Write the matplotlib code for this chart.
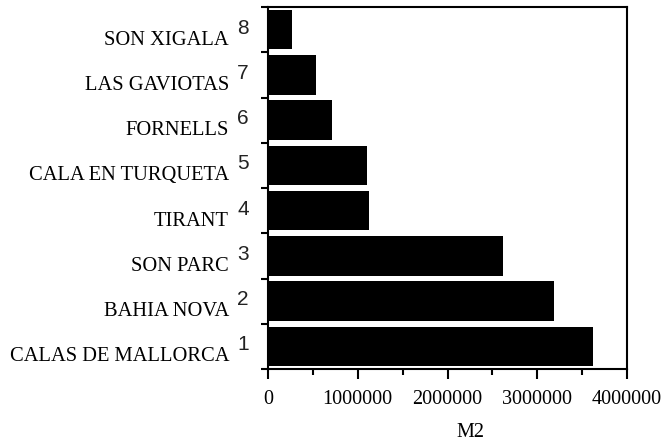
import matplotlib
matplotlib.use("Agg")
import matplotlib.pyplot as plt
from matplotlib.transforms import blended_transform_factory
import numpy as np

names = ["CALAS DE MALLORCA", "BAHIA NOVA", "SON PARC", "TIRANT",
         "CALA EN TURQUETA", "FORNELLS", "LAS GAVIOTAS", "SON XIGALA"]
numbers = ["1", "2", "3", "4", "5", "6", "7", "8"]
values = [3620000, 3190000, 2620000, 1130000, 1100000, 710000, 535000, 265000]
xticks = [0, 1000000, 2000000, 3000000, 4000000]
xlabel = "M2"

fig = plt.figure(figsize=(6.63, 4.42), dpi=100)
ax = fig.add_axes([268/663, 1 - 369/442, (627-268)/663, (369-7)/442])

y = np.arange(len(values))
ax.barh(y, values, height=0.87, color="black")
ax.set_xlim(0, 4000000)
ax.set_ylim(-0.5, len(values) - 0.5)

ax.set_xticks(xticks)
ax.set_xticklabels([str(t) for t in xticks], fontfamily="Liberation Serif", fontsize=14.5)
ax.set_xticks([500000, 1500000, 2500000, 3500000], minor=True)
ax.tick_params(axis="x", which="major", direction="out", length=7, width=1.5, pad=8)
ax.tick_params(axis="x", which="minor", direction="out", length=4, width=1.5)

ax.set_yticks(np.arange(-0.5, len(values), 1.0))
ax.set_yticklabels([])
ax.tick_params(axis="y", which="major", direction="out", length=5, width=1.5)

for s in ax.spines.values():
    s.set_linewidth(1.5)

ax.set_xlabel(xlabel, fontfamily="Liberation Serif", fontsize=14.5)
ax.xaxis.set_label_coords(0.563, -0.148)

tr = blended_transform_factory(fig.transFigure, ax.transData)
for yi, nm, num in zip(y, names, numbers):
    ax.annotate(nm, xy=(229/663, yi), xycoords=tr, xytext=(0, -7.5), textcoords="offset points",
                ha="right", va="center", fontfamily="Liberation Serif", fontsize=14.8)
    ax.annotate(num, xy=(243/663, yi), xycoords=tr, xytext=(0, 1), textcoords="offset points",
                ha="center", va="center", fontfamily="Liberation Sans", fontsize=15,
                color="#222222")

fig.savefig("out.png", dpi=100)
